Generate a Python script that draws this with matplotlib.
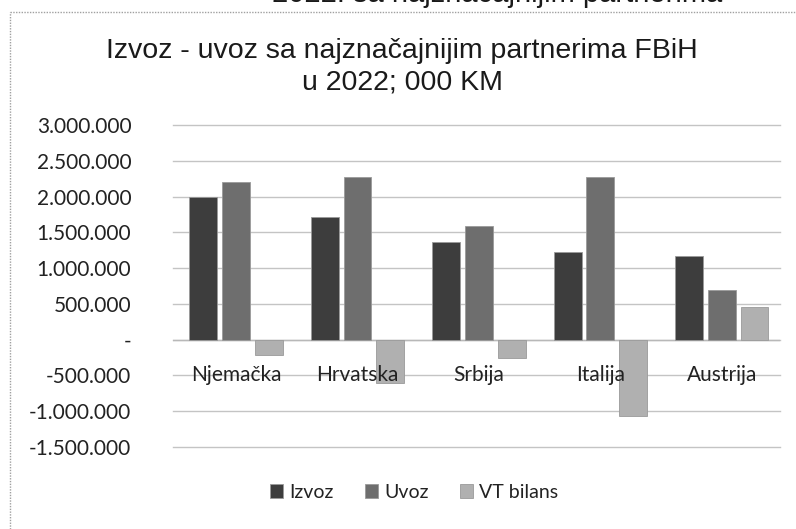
import matplotlib
matplotlib.use("Agg")
import matplotlib.pyplot as plt
from matplotlib.ticker import FuncFormatter, MultipleLocator
from matplotlib.lines import Line2D
import numpy as np

categories = ["Njemačka", "Hrvatska", "Srbija", "Italija", "Austrija"]
izvoz = [2000000, 1710000, 1360000, 1220000, 1170000]
uvoz = [2200000, 2270000, 1590000, 2270000, 690000]
vt_bilans = [-220000, -600000, -260000, -1070000, 460000]
series_names = ["Izvoz", "Uvoz", "VT bilans"]
colors = ["#3d3d3d", "#6e6e6e", "#b0b0b0"]

title = "Izvoz - uvoz sa najznačajnijim partnerima FBiH\nu 2022; 000 KM"
cut_text = "2022. sa najznačajnijim partnerima"

W, H = 796, 529
fig = plt.figure(figsize=(W / 100, H / 100), dpi=100)
fig.patch.set_facecolor("white")

tick_font = ["Lato", "DejaVu Sans"]
title_font = ["Liberation Sans", "DejaVu Sans"]

ax = fig.add_axes([173 / W, 1 - 447 / H, 607 / W, 322 / H])
x = np.arange(len(categories))
width = 0.23
offsets = [-0.27, 0.0, 0.27]
for vals, off, col, name in zip([izvoz, uvoz, vt_bilans], offsets, colors, series_names):
    ax.bar(x + off + 0.02, vals, width, color=col, edgecolor="#9a9a9a", linewidth=0.6,
           label=name, zorder=2)

ax.set_xlim(-0.5, len(categories) - 0.5)
ax.set_ylim(-1500000, 3000000)
ax.yaxis.set_major_locator(MultipleLocator(500000))


def fmt(v, pos):
    if abs(v) < 1:
        return "-"
    s = f"{abs(int(round(v))):,}".replace(",", ".")
    return ("-" if v < 0 else "") + s


ax.yaxis.set_major_formatter(FuncFormatter(fmt))
ax.grid(axis="y", color="#c4c4c4", linewidth=1.0, zorder=0, clip_on=False)
ax.set_axisbelow(True)
for sp in ax.spines.values():
    sp.set_visible(False)
ax.axhline(0, color="#b8b8b8", linewidth=1.0, zorder=1)
ax.tick_params(axis="y", length=0, pad=30, labelsize=15, labelcolor="#222222")
ax.tick_params(axis="x", length=0, labelbottom=False)
for lab in ax.get_yticklabels():
    lab.set_fontfamily(tick_font)

for i, c in enumerate(categories):
    ax.text(i + 0.02, -490000, c, ha="center", va="center", fontsize=15,
            family=tick_font, color="#222222", zorder=5)

fig.text(402 / W, 1 - 67 / H, title, ha="center", va="center", fontsize=20.5,
         family=title_font, color="#1a1a1a", linespacing=1.27)
fig.text(497 / W, 1 - (-6) / H, cut_text, ha="center", va="center", fontsize=21,
         family=title_font, color="#1a1a1a")

# outer chart border (dotted gray)
fig.add_artist(Line2D([10 / W, 1.0], [1 - 12 / H, 1 - 12 / H], transform=fig.transFigure,
                      color="#a0a0a0", linewidth=1.0, linestyle=(0, (1, 1))))
fig.add_artist(Line2D([10 / W, 10 / W], [0.0, 1 - 12 / H], transform=fig.transFigure,
                      color="#a0a0a0", linewidth=1.0, linestyle=(0, (1, 1))))

leg = fig.legend(loc="center", bbox_to_anchor=(414 / W, 1 - 492 / H), ncol=3, frameon=False,
                 handlelength=0.7, handleheight=0.7, handletextpad=0.3, columnspacing=1.6,
                 prop={"family": tick_font, "size": 14})
for t in leg.get_texts():
    t.set_color("#222222")

fig.savefig("out.png", dpi=100, facecolor="white")
